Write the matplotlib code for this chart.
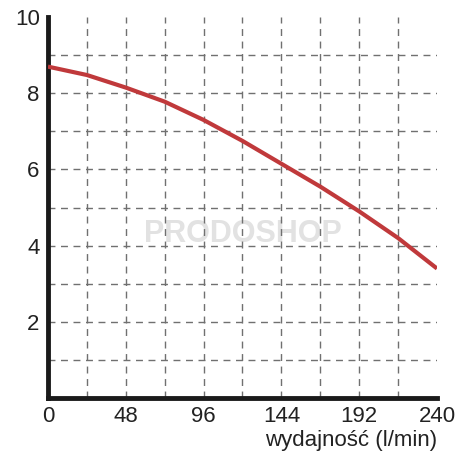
import numpy as np
import matplotlib.pyplot as plt

plt.rcParams['font.family'] = ['Liberation Sans', 'DejaVu Sans']

flow = [0, 24, 48, 72, 96, 120, 144, 168, 192, 216, 240]
head = [8.7, 8.48, 8.15, 7.78, 7.3, 6.75, 6.15, 5.55, 4.9, 4.2, 3.4]
x_ticks = [0, 48, 96, 144, 192, 240]
y_ticks = [2, 4, 6, 8, 10]

fig = plt.figure(figsize=(4.75, 4.75), dpi=100)
ax = fig.add_axes([0.101, 0.162, 0.819, 0.802])
ax.set_xlim(0, 240)
ax.set_ylim(0, 10)

# dashed grid, no line on the 240 / 10 edges
for gx in range(24, 240, 24):
    ax.axvline(gx, color='#707070', lw=1, ls=(0, (5, 4)), zorder=1)
for gy in range(1, 10):
    ax.axhline(gy, color='#707070', lw=1, ls=(0, (5, 4)), zorder=1)

ax.text(120, 4.3, 'PRODOSHOP', fontsize=22, fontweight='bold', color='#e2e2e2',
        ha='center', va='center', zorder=0)

ax.plot(flow, head, color='#c0393b', lw=3, solid_capstyle='butt', zorder=3)

for s in ['top', 'right']:
    ax.spines[s].set_visible(False)
for s in ['left', 'bottom']:
    ax.spines[s].set_linewidth(3.5)
    ax.spines[s].set_color('#1a1a1a')

ax.set_xticks(x_ticks)
ax.set_yticks(y_ticks)
ax.tick_params(length=0, labelsize=16, pad=6, colors='#222222')
ax.set_xticklabels([str(v) for v in x_ticks])
ax.set_yticklabels([str(v) for v in y_ticks])
ax.set_xlabel('wydajność (l/min)', fontsize=16, loc='right', labelpad=2, color='#222222')

fig.savefig('out.png', dpi=100)
